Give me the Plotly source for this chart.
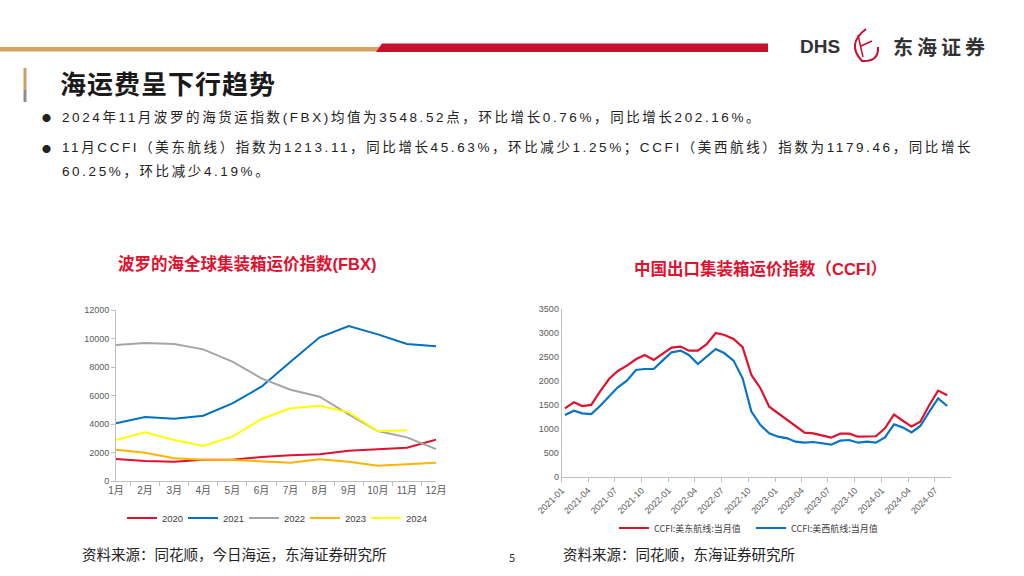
import plotly.graph_objects as go

W, H = 1024, 576

def px(x):
    return x / W

def py(y):
    return 1 - y / H

# ---- data ----
months = ["1月", "2月", "3月", "4月", "5月", "6月", "7月", "8月", "9月", "10月", "11月", "12月"]
fbx_2020 = [1544, 1403, 1357, 1497, 1497, 1684, 1801, 1871, 2128, 2245, 2339, 2900]
fbx_2021 = [4046, 4491, 4374, 4584, 5450, 6619, 8374, 10081, 10876, 10292, 9613, 9450]
fbx_2022 = [9543, 9683, 9613, 9239, 8374, 7204, 6409, 5918, 4678, 3508, 3064, 2245]
fbx_2023 = [2199, 1988, 1590, 1497, 1473, 1357, 1286, 1520, 1357, 1076, 1193, 1286]
fbx_2024 = [2877, 3415, 2877, 2456, 3111, 4351, 5099, 5286, 4818, 3508, 3549]

ccfi_dates = [f"{2021 + i // 12}-{i % 12 + 1:02d}-12" for i in range(44)]
ccfi_east = [1430, 1555, 1478, 1500, 1780, 2043, 2210, 2322, 2455, 2545,
             2440, 2560, 2700, 2720, 2636, 2636, 2770, 3005, 2964, 2880,
             2710, 2127, 1850, 1464, 1325, 1190, 1060, 920, 906, 855,
             816, 900, 900, 837, 837, 845, 1010, 1300, 1175, 1048,
             1150, 1500, 1800, 1705]
ccfi_west = [1290, 1381, 1325, 1311, 1478, 1674, 1869, 2008, 2232, 2252,
             2252, 2427, 2601, 2636, 2545, 2357, 2510, 2671, 2580, 2427,
             2057, 1360, 1081, 907, 837, 802, 732, 711, 725, 697,
             669, 753, 767, 711, 732, 711, 823, 1095, 1032, 927,
             1060, 1360, 1639, 1478]

fbx_series = [("2020", fbx_2020, "#E0102F"), ("2021", fbx_2021, "#0070C0"),
              ("2022", fbx_2022, "#A5A5A5"), ("2023", fbx_2023, "#FFB400"),
              ("2024", fbx_2024, "#FFFF00")]

FONT = "Liberation Sans, Noto Sans CJK SC, sans-serif"
CJK = "Noto Sans CJK SC, sans-serif"
AXIS_C = "#BFBFBF"
TICK_C = "#595959"

fig = go.Figure()

for name, vals, color in fbx_series:
    fig.add_trace(go.Scatter(x=months[:len(vals)], y=vals, name=name, mode="lines",
                             line=dict(color=color, width=2), xaxis="x", yaxis="y",
                             legend="legend"))

fig.add_trace(go.Scatter(x=ccfi_dates, y=ccfi_east, name="CCFI:美东航线:当月值", mode="lines",
                         line=dict(color="#E0102F", width=2.2), xaxis="x2", yaxis="y2",
                         legend="legend2"))
fig.add_trace(go.Scatter(x=ccfi_dates, y=ccfi_west, name="CCFI:美西航线:当月值", mode="lines",
                         line=dict(color="#0A74C4", width=2.2), xaxis="x2", yaxis="y2",
                         legend="legend2"))

fig.update_layout(
    width=W, height=H,
    margin=dict(l=0, r=0, t=0, b=0),
    paper_bgcolor="white", plot_bgcolor="white",
    font=dict(family=FONT, color=TICK_C),
    xaxis=dict(domain=[px(116), px(436)], type="category", showline=True, linecolor=AXIS_C,
               ticks="outside", tickson="boundaries", ticklen=4, tickcolor=AXIS_C,
               showgrid=False, tickangle=0, automargin=False,
               tickfont=dict(size=10, color=TICK_C), anchor="y"),
    yaxis=dict(domain=[py(481), py(310)], range=[0, 12000], dtick=2000, showline=True,
               linecolor=AXIS_C, ticks="outside", ticklen=4, tickcolor=AXIS_C,
               showgrid=False, zeroline=False, tickformat="d", automargin=False,
               tickfont=dict(size=9, color=TICK_C), anchor="x"),
    xaxis2=dict(domain=[px(561.7), px(950.7)], type="date", range=["2021-01-01", "2024-08-24"],
                tick0="2021-01-01", dtick="M3", tickformat="%Y-%m", tickangle=-45,
                showline=True, linecolor=AXIS_C, ticks="outside", ticklen=4, tickcolor=AXIS_C,
                showgrid=False, automargin=False,
                tickfont=dict(size=9, color=TICK_C), anchor="y2"),
    yaxis2=dict(domain=[py(476.7), py(309.3)], range=[0, 3500], dtick=500, showline=True,
                linecolor=AXIS_C, showgrid=False, zeroline=False, ticks="", automargin=False,
                tickfont=dict(size=9, color=TICK_C), anchor="x2"),
    legend=dict(orientation="h", x=px(122), y=py(518), xanchor="left", yanchor="middle",
                font=dict(size=9.5, color="#404040"), bgcolor="rgba(0,0,0,0)",
                entrywidth=16, tracegroupgap=0),
    legend2=dict(orientation="h", x=px(614), y=py(528), xanchor="left", yanchor="middle",
                 font=dict(size=9, color="#404040", family=CJK), bgcolor="rgba(0,0,0,0)",
                 entrywidth=92),
)

def rect(x0, x1, y0, y1, color):
    return dict(type="rect", xref="paper", yref="paper", x0=px(x0), x1=px(x1),
                y0=py(y1), y1=py(y0), fillcolor=color, line_width=0, layer="above")

def path(d, **kw):
    return dict(type="path", xref="paper", yref="paper", path=d, layer="above", **kw)

def P(x, y):
    return f"{px(x)},{py(y)}"

shapes = [
    rect(0, 380, 47, 51.5, "#D4A464"),
    path(f"M {P(376, 52)} L {P(382, 43.5)} L {P(768, 43.5)} L {P(768, 52)} Z",
         fillcolor="#C8102E", line_width=0),
    rect(23.5, 26.5, 68, 90, "#C9A063"),
    rect(23.5, 26.5, 90, 102, "#8C8C8C"),
    # logo swirl
    path(f"M {P(866, 29)} Q {P(846, 44)} {P(862, 61)} Q {P(879, 62)} {P(878, 47)}",
         line=dict(color="#C8102E", width=2)),
    path(f"M {P(858, 35)} L {P(863, 57)} M {P(861, 46)} L {P(872, 41)}",
         line=dict(color="#C8102E", width=1.5)),
]
fig.update_layout(shapes=shapes)

def ann(x, y, text, size, color="#222222", family=CJK, xanchor="left", bold=False):
    fig.add_annotation(x=px(x), y=py(y), xref="paper", yref="paper", text=text, showarrow=False,
                       xanchor=xanchor, yanchor="middle",
                       font=dict(size=size, color=color, family=family,
                                 weight="bold" if bold else "normal"))

# header
ann(798, 46, "DHS", 19, color="#333333", family="Liberation Sans, sans-serif", bold=True)
ann(891, 47, '<span style="letter-spacing:4px">东海证券</span>', 20, color="#333333", bold=True)
ann(58, 82, '<span style="letter-spacing:1px">海运费呈下行趋势</span>', 26, color="#1A1A1A", bold=True)

SP = '<span style="letter-spacing:2.6px">{}</span>'
ann(40, 117, "●", 9, color="#222222")
ann(60, 117, SP.format("2024年11月波罗的海货运指数(FBX)均值为3548.52点，环比增长0.76%，同比增长202.16%。"),
    13.5, family=FONT)
ann(40, 148, "●", 9, color="#222222")
ann(60, 148, SP.format("11月CCFI（美东航线）指数为1213.11，同比增长45.63%，环比减少1.25%；CCFI（美西航线）指数为1179.46，同比增长"),
    13.5, family=FONT)
ann(60, 171, SP.format("60.25%，环比减少4.19%。"), 13.5, family=FONT)

# chart titles
ann(247, 264, "波罗的海全球集装箱运价指数(FBX)", 16.5, color="#E0102F", family=FONT, xanchor="center", bold=True)
ann(760, 268, "中国出口集装箱运价指数（CCFI）", 16.5, color="#E0102F", family=FONT, xanchor="center", bold=True)

# footer
ann(80, 553, "资料来源：同花顺，今日海运，东海证券研究所", 14.5)
ann(512, 557, "5", 11, color="#333333", xanchor="center")
ann(561, 553, "资料来源：同花顺，东海证券研究所", 14.5)

fig.write_html("out.html", config={"displayModeBar": False},
               post_script="document.body.style.margin='0';")
